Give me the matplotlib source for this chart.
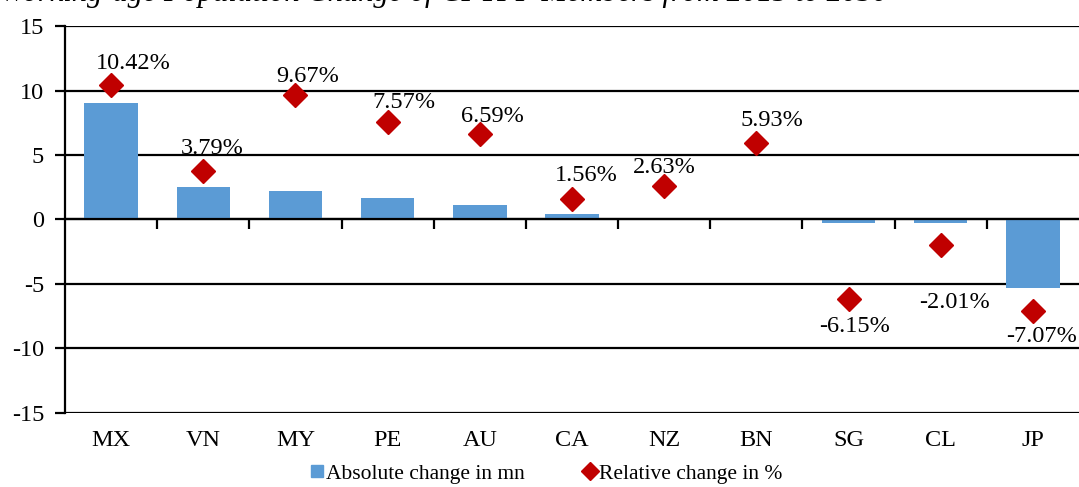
import numpy as np
import matplotlib
matplotlib.use('Agg')
import matplotlib.pyplot as plt
from matplotlib.lines import Line2D

plt.rcParams['font.family'] = ['Liberation Serif', 'DejaVu Serif']
plt.rcParams['axes.unicode_minus'] = False

countries = ['MX', 'VN', 'MY', 'PE', 'AU', 'CA', 'NZ', 'BN', 'SG', 'CL', 'JP']
absolute_mn = [9.0, 2.55, 2.2, 1.65, 1.1, 0.4, 0.1, 0.02, -0.25, -0.25, -5.3]
relative_pct = [10.42, 3.79, 9.67, 7.57, 6.59, 1.56, 2.63, 5.93, -6.15, -2.01, -7.07]

# label offsets (pixels) relative to each diamond
label_dx = [22, 9, 12, 16, 13, 14, 0, 16, 6, 14, 9]
label_dy = [22, 22, 18, 19, 18, 24, 18, 22, -28, -57, -26]

fs = 17.5

fig = plt.figure(figsize=(10.79, 4.87), dpi=100)
ax = fig.add_axes([0.0602, 0.152, 0.9398, 0.7946])

x = np.arange(len(countries))
ax.bar(x, absolute_mn, width=0.58, color='#5B9BD5', zorder=2)
ax.plot(x, relative_pct, linestyle='none', marker='D', markersize=12,
        color='#C00000', zorder=3)

for i, v in enumerate(relative_pct):
    ax.annotate('%.2f%%' % v, (x[i], v), xytext=(label_dx[i], label_dy[i]),
                textcoords='offset pixels', ha='center', va='center',
                fontsize=fs, color='black', zorder=4)

ax.set_xlim(-0.5, len(countries) - 0.5)
ax.set_ylim(-15, 15)
ax.set_yticks(np.arange(-15, 16, 5))
for yv in np.arange(-15, 16, 5):
    ax.axhline(yv, color='black', linewidth=1.6, zorder=1)

for s in ['top', 'right']:
    ax.spines[s].set_visible(False)
ax.spines['left'].set_linewidth(1.6)
ax.spines['left'].set_zorder(5)

# category boundary ticks on the zero line
ax.spines['bottom'].set_position(('data', 0))
ax.spines['bottom'].set_linewidth(1.6)
ax.set_xticks(np.arange(0.5, len(countries) - 0.5, 1.0))
ax.set_xticklabels([])
ax.tick_params(axis='x', direction='out', length=7, width=1.6)
ax.tick_params(axis='y', direction='out', length=7, width=1.6, labelsize=fs, pad=8)

for i, c in enumerate(countries):
    ax.text(x[i], -0.07, c, transform=ax.get_xaxis_transform(),
            ha='center', va='center', fontsize=fs)

handles = [Line2D([], [], linestyle='none', marker='s', markersize=8, color='#5B9BD5'),
           Line2D([], [], linestyle='none', marker='D', markersize=9, color='#C00000')]
fig.legend(handles, ['Absolute change in mn', 'Relative change in %'],
           loc='center', bbox_to_anchor=(0.507, 0.027), ncol=2, frameon=False,
           fontsize=15.5, handlelength=0.5, handletextpad=0.15, columnspacing=2.8)

fig.text(0.0, 1 - 1.5 / 487, 'Working-age Population Change of CPTPP Members from 2015 to 2030',
         fontsize=22, style='italic', va='baseline', ha='left')

fig.savefig('out.png', dpi=100)
